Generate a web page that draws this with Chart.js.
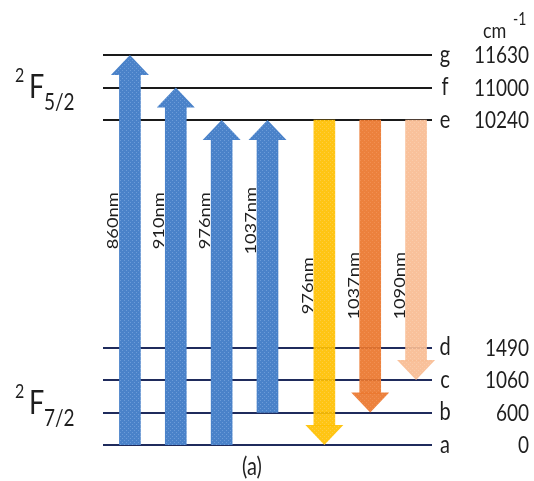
<!DOCTYPE html>
<html>
<head>
<meta charset="utf-8">
<script src="https://cdn.jsdelivr.net/npm/chart.js@4/dist/chart.umd.min.js"></script>
<style>
  html, body { margin: 0; padding: 0; background: #ffffff; }
  canvas { display: block; }
</style>
</head>
<body>
<canvas id="c" width="534" height="481" style="width:534px;height:481px"></canvas>
<script>
// Yb3+ energy levels (cm^-1), two Stark manifolds
const levelNames = ['a', 'b', 'c', 'd', 'e', 'f', 'g'];
const levelEnergies = [0, 600, 1060, 1490, 10240, 11000, 11630];

// Pump (absorption) transitions
const pumpFrom = ['a', 'a', 'a', 'b'];
const pumpTo = ['g', 'f', 'e', 'e'];
const pumpLabels = ['860nm', '910nm', '976nm', '1037nm'];

// Emission transitions
const emitFrom = ['e', 'e', 'e'];
const emitTo = ['a', 'b', 'c'];
const emitLabels = ['976nm', '1037nm', '1090nm'];

// Schematic (broken) vertical axis: 4 rungs for 2F7/2, a gap, then 3 rungs for 2F5/2
const LOWER_COUNT = 4;
const GAP_RUNGS = 6;
function rung(name) {
  const i = levelNames.indexOf(name);
  return i < LOWER_COUNT ? i : i + GAP_RUNGS;
}
// Horizontal columns: pump arrows first, then emission arrows after a small extra gap
const GROUP_GAP = 0.24;
function column(i) {
  return i < pumpFrom.length ? i : i + GROUP_GAP;
}

const HEAD_W = 38;
const HEAD_H = 20;
const STRETCH = 1.22;       // vertical text stretch
const TEXT = '#1e1e1e';
const FONT = 'Lato, "Open Sans", sans-serif';

function dotted(base, dot) {
  const t = document.createElement('canvas');
  t.width = 4; t.height = 4;
  const g = t.getContext('2d');
  g.fillStyle = base; g.fillRect(0, 0, 4, 4);
  g.fillStyle = dot;
  g.fillRect(0, 0, 1, 1); g.fillRect(2, 2, 1, 1);
  return g.createPattern(t, 'repeat');
}

const pumpFill = dotted('#4a82c9', '#6b9bd8');
const emitFills = [
  dotted('rgba(255,192,0,0.92)', 'rgba(255,206,70,0.92)'),
  dotted('rgba(234,118,44,0.92)', 'rgba(242,145,85,0.92)'),
  dotted('rgba(248,188,146,0.92)', 'rgba(251,205,172,0.92)')
];

const fromList = pumpFrom.concat(emitFrom);
const toList = pumpTo.concat(emitTo);
const labelList = pumpLabels.concat(emitLabels);
const barData = fromList.map((f, i) => ({ x: column(i), y: [rung(f), rung(toList[i])] }));
const fills = pumpFrom.map(() => pumpFill).concat(emitFills);
const isUp = barData.map(d => d.y[1] > d.y[0]);

function drawText(ctx, str, x, y, size, align, baseline, sy) {
  ctx.save();
  ctx.translate(x, y);
  ctx.scale(1, sy);
  ctx.font = size + 'px ' + FONT;
  ctx.textAlign = align;
  ctx.textBaseline = baseline;
  ctx.fillStyle = TEXT;
  ctx.fillText(str, 0, 0);
  ctx.restore();
}

const diagram = {
  id: 'diagram',
  afterDatasetsUpdate(chart) {
    const meta = chart.getDatasetMeta(0);
    meta.data.forEach((el, i) => {
      el.$tip = isUp[i] ? el.y : el.base;
      if (isUp[i]) el.y += HEAD_H - 1;
      else el.base -= HEAD_H - 1;
    });
  },
  beforeDatasetsDraw(chart) {
    const ctx = chart.ctx;
    const y = chart.scales.y;
    const area = chart.chartArea;
    ctx.save();
    ctx.lineWidth = 2;
    levelNames.forEach((n, i) => {
      const py = Math.round(y.getPixelForValue(rung(n)));
      ctx.strokeStyle = i < LOWER_COUNT ? '#1f2b5c' : '#1a1a1a';
      ctx.beginPath();
      ctx.moveTo(area.left - 4, py);
      ctx.lineTo(area.right - 7, py);
      ctx.stroke();
    });
    ctx.restore();
  },
  afterDatasetsDraw(chart) {
    const ctx = chart.ctx;
    const ys = chart.scales.y;
    const meta = chart.getDatasetMeta(0);
    meta.data.forEach((el, i) => {
      const tip = el.$tip;
      const baseY = isUp[i] ? tip + HEAD_H : tip - HEAD_H;
      ctx.save();
      ctx.fillStyle = fills[i];
      ctx.beginPath();
      ctx.moveTo(el.x - HEAD_W / 2, baseY);
      ctx.lineTo(el.x + HEAD_W / 2, baseY);
      ctx.lineTo(el.x, tip);
      ctx.closePath();
      ctx.fill();
      ctx.restore();

      // wavelength label, reading upward along the left side of the shaft
      const ly = ys.getPixelForValue(isUp[i] ? 6.9 : 4.9);
      const lx = el.x - el.width / 2 - 1;
      ctx.save();
      ctx.translate(lx, ly);
      ctx.rotate(-Math.PI / 2);
      ctx.scale(STRETCH, 1);
      ctx.font = '15px ' + FONT;
      ctx.textAlign = 'center';
      ctx.textBaseline = 'alphabetic';
      ctx.fillStyle = TEXT;
      ctx.fillText(labelList[i], 0, 0);
      ctx.restore();
    });
  },
  afterDraw(chart) {
    const ctx = chart.ctx;
    const ys = chart.scales.y;
    const area = chart.chartArea;
    levelNames.forEach((n, i) => {
      const py = ys.getPixelForValue(rung(n));
      drawText(ctx, n, area.right + 6, py, 20, 'center', 'middle', STRETCH);
      drawText(ctx, String(levelEnergies[i]), 529, py + 1, 19, 'right', 'middle', STRETCH);
    });
    // unit header
    drawText(ctx, 'cm', 483, 38, 18, 'left', 'alphabetic', STRETCH);
    drawText(ctx, '-1', 513, 25, 14, 'left', 'alphabetic', STRETCH);

    // manifold term symbols
    const terms = [['5/2', 98], ['7/2', 414]];
    terms.forEach(([j, base]) => {
      drawText(ctx, '2', 15, base - 16, 16, 'left', 'alphabetic', STRETCH);
      drawText(ctx, 'F', 29, base, 27, 'left', 'alphabetic', STRETCH);
      drawText(ctx, j, 44, base + 12, 19, 'left', 'alphabetic', STRETCH);
    });

    drawText(ctx, '(a)', 252, 475, 20, 'center', 'alphabetic', STRETCH);
  }
};

new Chart(document.getElementById('c'), {
  type: 'bar',
  data: {
    datasets: [{
      data: barData,
      backgroundColor: fills,
      borderWidth: 0,
      barThickness: 21,
      borderSkipped: false
    }]
  },
  options: {
    responsive: false,
    devicePixelRatio: 1,
    animation: false,
    events: [],
    layout: { padding: { left: 107, right: 95, top: 55, bottom: 36 } },
    plugins: { legend: { display: false }, tooltip: { enabled: false } },
    scales: {
      x: { type: 'linear', display: false, offset: false, min: -0.5, max: 6.74 },
      y: { type: 'linear', display: false, min: 0, max: 12 }
    }
  },
  plugins: [diagram]
});
</script>
</body>
</html>
